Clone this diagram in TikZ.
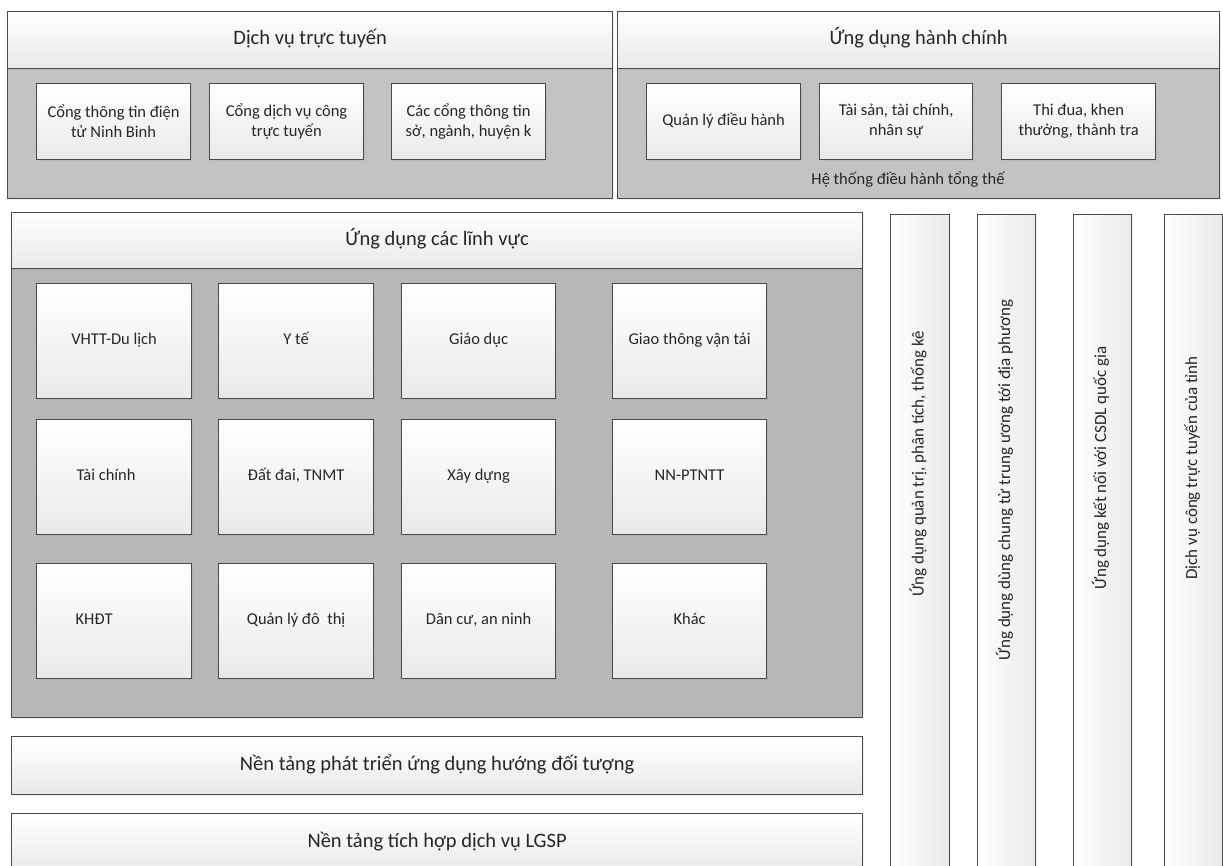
\documentclass[tikz,border=0pt]{standalone}
\usepackage{fontspec}
\setmainfont{Carlito}
\usetikzlibrary{shadows}
\definecolor{edge}{HTML}{4A4A4A}
\definecolor{inktext}{HTML}{262626}
\definecolor{bodytop}{HTML}{C3C3C3}
\definecolor{bodygrid}{HTML}{B7B7B7}
\definecolor{shadeend}{HTML}{E9E9E9}
\tikzset{
  box/.style={draw=edge, line width=1.2pt, inner sep=0pt, anchor=north west,
    align=center, text=inktext,
    drop shadow={shadow xshift=1.5pt, shadow yshift=-1.5pt, opacity=0.12}},
  header/.style={box, top color=white, bottom color=shadeend,
    font=\fontsize{20.5}{24}\selectfont, text height=14pt, text depth=5pt},
  panelbody/.style={box, fill=#1},
  cell/.style={box, top color=white, bottom color=shadeend,
    font=\fontsize{16.5}{20}\selectfont},
  onecell/.style={cell, text height=11.5pt, text depth=4pt},
  vbar/.style={box, left color=white, right color=shadeend},
  vtext/.style={rotate=90, inner sep=0pt, text=inktext,
    font=\fontsize{17}{20}\selectfont, text height=12pt, text depth=4pt},
  plain/.style={inner sep=0pt, text=inktext, font=\fontsize{16.5}{20}\selectfont},
}
\begin{document}
\begin{tikzpicture}[x=1pt, y=-1pt]
\useasboundingbox (0,0) rectangle (1223,865);

% ---- Online services panel ----
\node[panelbody=bodytop, minimum width=605pt, minimum height=130pt] (dvbody) at (7,68) {};
\node[header, minimum width=605pt, minimum height=57pt] (dvhdr) at (7,11) {Dịch vụ trực tuyến};
\node[cell, minimum width=154pt, minimum height=76pt] (dv1) at (36,83) {Cổng thông tin điện\\tử Ninh Binh};
\node[cell, minimum width=154pt, minimum height=76pt] (dv2) at (209,83) {Cổng dịch vụ công\\trực tuyến};
\node[cell, minimum width=154pt, minimum height=76pt] (dv3) at (391,83) {Các cổng thông tin\\sở, ngành, huyện k};

% ---- Administrative applications panel ----
\node[panelbody=bodytop, minimum width=602pt, minimum height=130pt] (hcbody) at (617,68) {};
\node[header, minimum width=602pt, minimum height=57pt] (hchdr) at (617,11) {Ứng dụng hành chính};
\node[onecell, minimum width=154pt, minimum height=76pt] (hc1) at (646,83) {Quản lý điều hành};
\node[cell, minimum width=153pt, minimum height=76pt] (hc2) at (819,83) {Tài sản, tài chính,\\nhân sự};
\node[cell, minimum width=154pt, minimum height=76pt] (hc3) at (1001,83) {Thi đua, khen\\thưởng, thành tra};
\node[plain] (hcnote) at (908,180) {Hệ thống điều hành tổng thế};

% ---- Sector applications panel ----
\node[panelbody=bodygrid, minimum width=851pt, minimum height=449pt] (lvbody) at (11,268) {};
\node[header, minimum width=851pt, minimum height=56pt] (lvhdr) at (11,212) {Ứng dụng các lĩnh vực};

% row 1
\node[onecell, minimum width=155pt, minimum height=115pt] (g11) at (36,283) {VHTT-Du lịch};
\node[onecell, minimum width=155pt, minimum height=115pt] (g12) at (218,283) {Y tế};
\node[onecell, minimum width=154pt, minimum height=115pt] (g13) at (401,283) {Giáo dục};
\node[onecell, minimum width=154pt, minimum height=115pt] (g14) at (612,283) {Giao thông vận tải};
% row 2
\node[onecell, minimum width=155pt, minimum height=115pt] (g21) at (36,419) {Tài chính\hspace*{16pt}};
\node[onecell, minimum width=155pt, minimum height=115pt] (g22) at (218,419) {Đất đai, TNMT};
\node[onecell, minimum width=154pt, minimum height=115pt] (g23) at (401,419) {Xây dựng};
\node[onecell, minimum width=154pt, minimum height=115pt] (g24) at (612,419) {NN-PTNTT};
% row 3
\node[onecell, minimum width=155pt, minimum height=115pt] (g31) at (36,563) {KHĐT\hspace*{40pt}};
\node[onecell, minimum width=155pt, minimum height=115pt] (g32) at (218,563) {Quản lý đô\ \ thị};
\node[onecell, minimum width=154pt, minimum height=115pt] (g33) at (401,563) {Dân cư, an ninh};
\node[onecell, minimum width=154pt, minimum height=115pt] (g34) at (612,563) {Khác};

% ---- Platform layers ----
\node[header, minimum width=851pt, minimum height=58pt] (nt1) at (11,736) {Nền tảng phát triển ứng dụng hướng đối tượng};
\node[header, minimum width=851pt, minimum height=58pt] (nt2) at (11,813) {Nền tảng tích hợp dịch vụ LGSP};

% ---- Vertical cross-cutting columns ----
\node[vbar, minimum width=59pt, minimum height=670pt] (v1) at (890,214) {};
\node[vbar, minimum width=58pt, minimum height=670pt] (v2) at (977,214) {};
\node[vbar, minimum width=58pt, minimum height=670pt] (v3) at (1073,214) {};
\node[vbar, minimum width=58pt, minimum height=670pt] (v4) at (1164,214) {};
\node[vtext] (v1t) at (919.5,464) {Ứng dụng quản trị, phân tích, thống kê};
\node[vtext] (v2t) at (1006,480) {Ứng dụng dùng chung từ trung ương tới địa phương};
\node[vtext] (v3t) at (1102,468) {Ứng dụng kết nối với CSDL quốc gia};
\node[vtext] (v4t) at (1193,468) {Dịch vụ công trực tuyến của tỉnh};
\end{tikzpicture}
\end{document}
